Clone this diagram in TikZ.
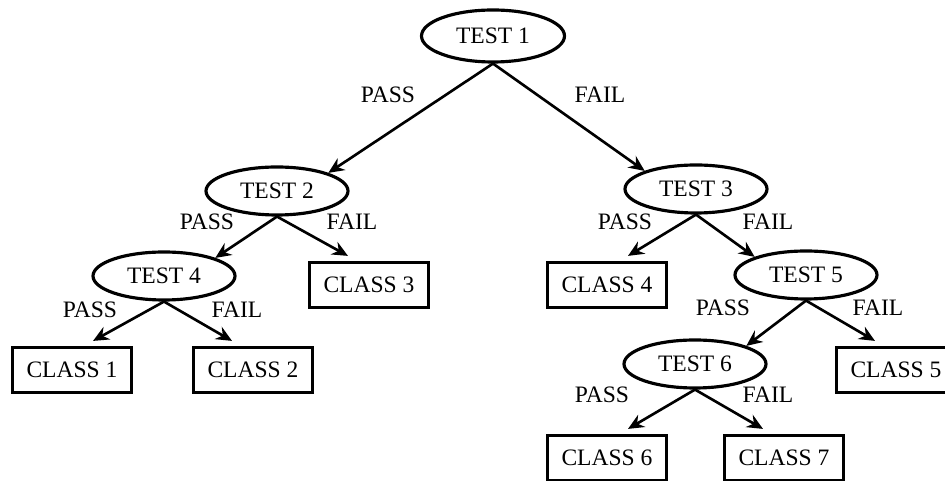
\documentclass[tikz,border=0pt]{standalone}
\usepackage{fontspec}
\setmainfont{Liberation Serif}
\usetikzlibrary{arrows.meta,shapes.geometric}

\tikzset{
  test/.style={ellipse, draw, line width=1.8pt, minimum width=2.84cm, minimum height=0.96cm, inner sep=0pt},
  class/.style={rectangle, draw, line width=1.8pt, minimum width=2.38cm, minimum height=0.9cm, inner sep=0pt},
  arr/.style={draw, line width=1.5pt, -{Stealth[length=9pt,width=8pt,inset=3pt]}},
}

\begin{document}
\begin{tikzpicture}[font=\fontsize{13.4}{15}\selectfont]
        \useasboundingbox (0,0) rectangle (18.9,9.62);
        %tests
        \node[test, minimum width=2.86cm, minimum height=1.04cm] (t1) at (9.86, 8.90) {TEST 1};
        \node[test] (t2) at (5.54, 5.80) {TEST 2};
        \node[test] (t3) at (13.92, 5.84) {TEST 3};
        \node[test] (t4) at (3.28, 4.10) {TEST 4};
        \node[test] (t5) at (16.12, 4.12) {TEST 5};
        \node[test] (t6) at (13.90, 2.34) {TEST 6};
        %classes
        \node[class] (c1) at (1.44, 2.22) {CLASS 1};
        \node[class] (c2) at (5.06, 2.22) {CLASS 2};
        \node[class] (c3) at (7.38, 3.92) {CLASS 3};
        \node[class] (c4) at (12.14, 3.92) {CLASS 4};
        \node[class] (c5) at (17.92, 2.22) {CLASS 5};
        \node[class] (c6) at (12.14, 0.46) {CLASS 6};
        \node[class] (c7) at (15.68, 0.46) {CLASS 7};
        %labels
        \node (p1) at (7.76, 7.72) {PASS};
        \node (f1) at (12.00, 7.72) {FAIL};
        \node (p2) at (4.14, 5.18) {PASS};
        \node (f2) at (7.04, 5.18) {FAIL};
        \node (p3) at (12.50, 5.18) {PASS};
        \node (f3) at (15.36, 5.18) {FAIL};
        \node (p4) at (1.80, 3.42) {PASS};
        \node (f4) at (4.74, 3.42) {FAIL};
        \node (p5) at (14.46, 3.46) {PASS};
        \node (f5) at (17.56, 3.46) {FAIL};
        \node (p6) at (12.04, 1.72) {PASS};
        \node (f6) at (15.36, 1.72) {FAIL};
        %edges
        \path [arr] (t1.south) to (t2.north east);
        \path [arr] (t1.south) to (t3.north west);
        \path [arr] (t2.south) to (t4.north east);
        \path [arr] (t2.south) to ([shift={(-0.42,0.1)}]c3.north);
        \path [arr] (t3.south) to ([shift={(0.42,0.1)}]c4.north);
        \path [arr] (t3.south) to (t5.north west);
        \path [arr] (t4.south) to ([shift={(0.42,0.1)}]c1.north);
        \path [arr] (t4.south) to ([shift={(-0.42,0.1)}]c2.north);
        \path [arr] (t5.south) to (t6.north east);
        \path [arr] (t5.south) to ([shift={(-0.42,0.1)}]c5.north);
        \path [arr] (t6.south) to ([shift={(0.42,0.1)}]c6.north);
        \path [arr] (t6.south) to ([shift={(-0.42,0.1)}]c7.north);
      \end{tikzpicture}
\end{document}
